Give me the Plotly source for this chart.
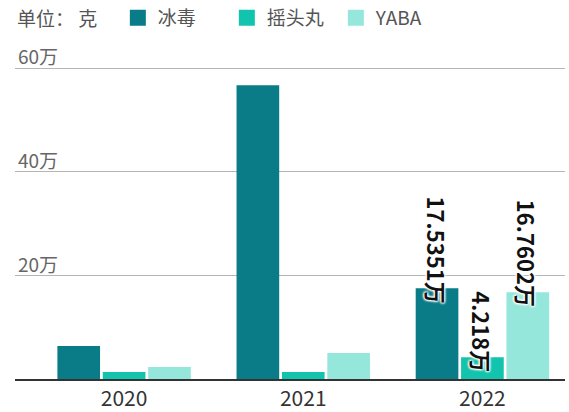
import plotly.graph_objects as go

years = ["2020", "2021", "2022"]
series_names = ["冰毒", "摇头丸", "YABA"]
bingdu = [63700, 567000, 175351]
yaotouwan = [13500, 13500, 42180]
yaba = [23000, 50000, 167602]
labels_2022 = ["17.5351万", "4.218万", "16.7602万"]
y_tickvals = [0, 200000, 400000, 600000]
y_ticktext = ["0", "20万", "40万", "60万"]

colors = ["#0a7c88", "#12c4ad", "#95e7dc"]
FONT = "Noto Sans CJK SC"
bargap = 0.24

fig = go.Figure()
for name, vals, c in zip(series_names, [bingdu, yaotouwan, yaba], colors):
    fig.add_trace(go.Bar(x=years, y=vals, name=name, showlegend=False,
                         marker=dict(color=c, line=dict(width=0))))
# legend swatches (larger squares)
for name, c in zip(series_names, colors):
    fig.add_trace(go.Scatter(x=[None], y=[None], mode="markers", name=name,
                             marker=dict(symbol="square", size=16, color=c)))

slot = (1 - bargap) / 3
vals_2022 = [bingdu[2], yaotouwan[2], yaba[2]]
for i, (v, t) in enumerate(zip(vals_2022, labels_2022)):
    fig.add_annotation(
        x=2 + (i - 1) * slot, y=v, xref="x", yref="y",
        text=t, textangle=90, showarrow=False,
        xanchor="center", yanchor="bottom", yshift=-17,
        font=dict(family=FONT, size=22, color="#111", weight="bold",
                  shadow="1px 1px 2px white, -1px -1px 2px white, 1px -1px 2px white, -1px 1px 2px white"),
    )

fig.add_annotation(
    x=0.0, y=1.0556, xref="paper", yref="paper", xanchor="left", yanchor="middle",
    text="单位： 克", showarrow=False,
    font=dict(family=FONT, size=19, color="#555"),
)

fig.update_layout(
    width=569, height=412,
    margin=dict(l=15, r=4, t=37, b=33, autoexpand=False),
    paper_bgcolor="white", plot_bgcolor="white",
    barmode="group", bargap=bargap, bargroupgap=0.06,
    font=dict(family=FONT, size=15, color="#444"),
    showlegend=True,
    legend=dict(orientation="h", x=0.187, y=1 - 18 / 412, xanchor="left", yanchor="middle",
                yref="container", font=dict(family=FONT, size=19, color="#555"),
                entrywidth=64, entrywidthmode="pixels", traceorder="normal",
                itemsizing="trace", bgcolor="rgba(0,0,0,0)"),
    xaxis=dict(range=[-0.609, 2.461], showline=True, linecolor="#333", linewidth=1.5,
               ticks="", tickfont=dict(family=FONT, size=21, color="#333"), showgrid=False,
               automargin=False),
    yaxis=dict(range=[0, 660000], tickvals=y_tickvals, ticktext=y_ticktext,
               ticklabelposition="inside top", ticklabelshift=3, showgrid=True, gridcolor="#b5b5b5",
               gridwidth=1, zeroline=False, showline=False, ticks="", automargin=False,
               tickfont=dict(family=FONT, size=19, color="#666")),
)

fig.write_html("out.html", config={"displayModeBar": False},
               post_script="document.body.style.margin='0px';")
